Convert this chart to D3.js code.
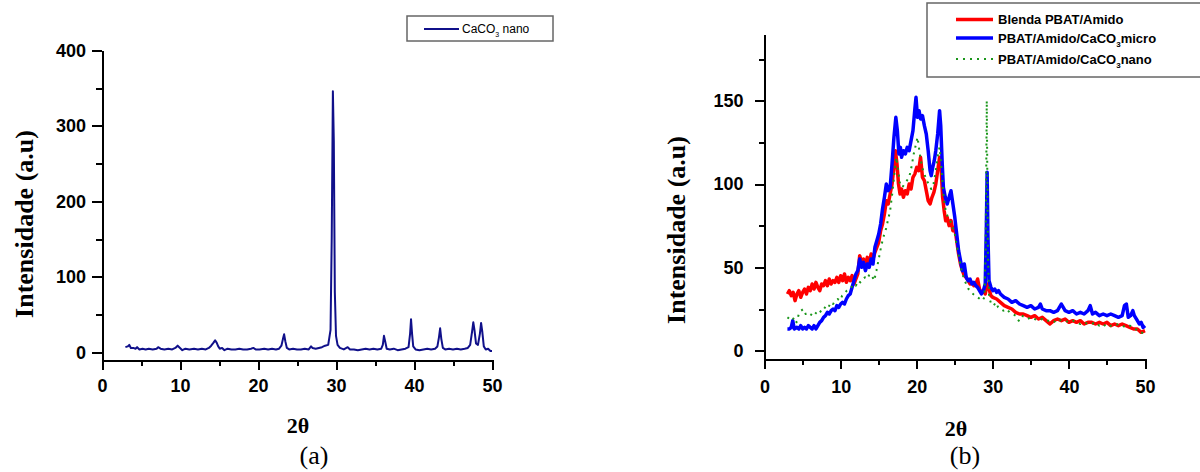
<!DOCTYPE html>
<meta charset="utf-8">
<style>
body { margin: 0; background: #fff; }
svg { display: block; }
.axis path, .axis line { fill: none; stroke: #000; stroke-width: 2; shape-rendering: crispEdges; }
.axis text { font-family: "Liberation Sans", Arial, sans-serif; font-weight: bold; font-size: 18px; fill: #000; }
.title { font-family: "Liberation Serif", "Times New Roman", serif; fill: #000; }
.legend text { font-family: "Liberation Sans", Arial, sans-serif; fill: #000; }
</style>
<body>
<script src="https://d3js.org/d3.v7.min.js"></script>
<script>
// ---- panel (a): CaCO3 nano, [2theta, intensity]
var caco3Nano = [[3.0,7],[3.3,8],[3.5,10],[3.7,6],[4.0,6],[4.3,5],[4.5,7],[4.8,4],[5.2,5],[5.6,4],[6.0,5],[6.5,4],[7.0,5],[7.2,7],[7.5,5],[8.0,4],[8.5,5],[9.0,4],[9.4,6],[9.7,9],[10.0,6],[10.3,3],[10.7,5],[11.2,4],[11.8,5],[12.3,4],[12.8,5],[13.3,4],[13.7,6],[14.0,9],[14.3,13],[14.5,16],[14.7,13],[14.9,8],[15.1,5],[15.4,6],[15.7,3],[16.1,5],[16.6,4],[17.1,4],[17.6,5],[18.1,4],[18.6,4],[19.1,5],[19.4,6],[19.7,4],[20.2,4],[20.8,5],[21.3,4],[21.8,5],[22.3,4],[22.7,5],[23.0,9],[23.2,18],[23.35,24],[23.5,15],[23.7,6],[24.0,4],[24.5,5],[25.0,4],[25.5,4],[26.0,5],[26.5,4],[26.8,8],[27.0,6],[27.4,5],[27.8,6],[28.2,7],[28.6,9],[29.0,10],[29.3,30],[29.45,150],[29.6,346],[29.72,280],[29.85,80],[30.0,22],[30.2,10],[30.5,6],[31.0,4],[31.5,7],[31.8,4],[32.3,4],[32.8,3],[33.3,4],[33.8,5],[34.3,4],[34.8,5],[35.3,4],[35.8,5],[36.0,10],[36.15,22],[36.3,15],[36.5,5],[36.9,4],[37.4,5],[37.9,3],[38.4,4],[38.9,5],[39.3,7],[39.5,25],[39.62,44],[39.75,25],[39.9,8],[40.2,4],[40.7,3],[41.2,4],[41.7,5],[42.2,4],[42.7,5],[43.0,8],[43.2,20],[43.35,32],[43.5,18],[43.7,6],[44.0,4],[44.5,5],[45.0,4],[45.5,5],[46.0,4],[46.5,5],[46.9,6],[47.2,10],[47.45,28],[47.6,40],[47.75,30],[47.95,12],[48.2,10],[48.45,25],[48.6,39],[48.75,28],[48.95,8],[49.2,4],[49.5,5],[49.8,2],[50.0,2]];

// ---- panel (b): blends
var blenda = [[3,34],[3.25,36],[3.5,33],[3.75,35],[4,30],[4.25,34],[4.5,36],[4.75,32],[5,35],[5.25,37],[5.5,34],[5.75,38],[6,36],[6.25,40],[6.5,37],[6.75,41],[7,38],[7.25,36],[7.5,40],[7.75,39],[8,42],[8.25,39],[8.5,43],[8.75,40],[9,42],[9.25,41],[9.5,44],[9.75,41],[10,45],[10.25,42],[10.5,46],[10.75,41],[11,44],[11.25,42],[11.5,45],[11.75,40],[12,43],[12.25,46],[12.5,57],[12.75,53],[13,55],[13.25,51],[13.5,56],[13.75,52],[14,58],[14.25,55],[14.5,59],[14.75,62],[15,65],[15.25,72],[15.5,76],[15.75,82],[16,90],[16.25,88],[16.5,94],[16.75,100],[17,110],[17.2,120],[17.4,112],[17.6,100],[17.8,94],[18,97],[18.25,92],[18.5,96],[18.75,94],[19,100],[19.25,97],[19.5,104],[19.75,106],[20,110],[20.25,108],[20.5,116],[20.75,104],[21,102],[21.25,96],[21.5,90],[21.75,88],[22,92],[22.25,95],[22.5,100],[22.75,108],[23,116],[23.2,110],[23.4,92],[23.6,84],[23.8,78],[24,80],[24.25,75],[24.5,78],[24.75,72],[25,74],[25.25,66],[25.5,58],[25.75,52],[26,48],[26.25,45],[26.5,44],[26.75,42],[27,40],[27.25,41],[27.5,39],[27.75,40],[28,43],[28.25,37],[28.5,35],[28.75,36],[29,34],[29.25,40],[29.5,37],[29.75,33],[30,32],[30.5,31],[31,29],[31.5,27],[32,26],[32.5,25],[33,23],[33.5,22],[34,22],[34.5,21],[35,20],[35.5,21],[36,19],[36.5,20],[37,18],[37.5,16],[38,18],[38.5,19],[39,18],[39.5,19],[40,17],[40.5,18],[41,17],[41.5,18],[42,16],[42.5,17],[43,17],[43.5,16],[44,17],[44.5,16],[45,17],[45.5,15],[46,16],[46.5,15],[47,16],[47.5,15],[48,14],[48.5,13],[49,13],[49.5,11],[50,12]];

var micro = [[3,13],[3.25,13],[3.5,14],[3.7,18],[3.9,13],[4.25,14],[4.5,13],[4.75,15],[5,13],[5.25,14],[5.5,13],[5.75,15],[6,14],[6.25,13],[6.5,15],[6.75,13],[7,15],[7.25,17],[7.5,18],[7.75,20],[8,21],[8.25,23],[8.5,22],[8.75,24],[9,25],[9.25,24],[9.5,27],[9.75,26],[10,28],[10.25,29],[10.5,28],[10.75,31],[11,33],[11.25,34],[11.5,38],[11.75,42],[12,46],[12.25,48],[12.5,55],[12.75,50],[13,53],[13.25,48],[13.5,52],[13.75,50],[14,55],[14.25,52],[14.5,62],[14.75,66],[15,70],[15.25,76],[15.5,85],[15.75,92],[16,100],[16.25,96],[16.5,98],[16.75,112],[17,128],[17.25,140],[17.45,132],[17.65,118],[17.85,122],[18,116],[18.25,120],[18.5,118],[18.75,122],[19,120],[19.25,126],[19.5,132],[19.75,145],[19.9,152],[20.1,140],[20.3,144],[20.5,139],[20.75,141],[21,135],[21.25,130],[21.5,120],[21.75,108],[21.9,105],[22.1,110],[22.3,114],[22.5,120],[22.75,130],[23,144],[23.15,135],[23.35,112],[23.5,98],[23.75,92],[24,88],[24.25,92],[24.5,96],[24.75,88],[25,80],[25.25,70],[25.5,60],[25.75,54],[26,48],[26.25,52],[26.5,44],[26.75,42],[27,43],[27.25,40],[27.5,41],[27.75,39],[28,38],[28.25,36],[28.5,34],[28.75,36],[29,40],[29.15,75],[29.25,107],[29.35,70],[29.5,42],[29.75,38],[30,36],[30.25,37],[30.5,35],[30.75,36],[31,34],[31.5,32],[32,31],[32.5,29],[33,30],[33.5,28],[34,27],[34.5,26],[35,27],[35.5,25],[36,26],[36.25,28],[36.5,25],[37,24],[37.5,24],[38,23],[38.5,24],[39,28],[39.5,24],[40,23],[40.5,24],[41,22],[41.5,23],[42,22],[42.5,24],[42.8,27],[43.1,22],[43.5,23],[44,21],[44.5,22],[45,21],[45.5,22],[46,21],[46.5,20],[47,21],[47.3,27],[47.55,28],[47.8,20],[48.1,21],[48.4,24],[48.6,21],[49,18],[49.25,16],[49.5,17],[49.75,14],[50,15]];

var nano = [[3,20],[3.3,19],[3.6,18],[3.9,20],[4.2,17],[4.5,22],[4.8,24],[5.1,25],[5.4,22],[5.7,23],[6,22],[6.3,21],[6.6,23],[6.9,22],[7.2,24],[7.5,23],[7.8,25],[8.1,27],[8.4,26],[8.7,29],[9,28],[9.3,30],[9.6,31],[9.9,30],[10.2,33],[10.5,34],[10.8,36],[11.1,37],[11.4,38],[11.7,40],[12,39],[12.3,42],[12.6,41],[12.9,43],[13.2,44],[13.5,43],[13.8,46],[14.1,45],[14.4,42],[14.7,48],[15,55],[15.3,62],[15.6,68],[15.9,72],[16.2,78],[16.5,84],[16.8,95],[17.1,108],[17.3,116],[17.5,110],[17.8,100],[18.1,98],[18.4,100],[18.7,102],[19,104],[19.3,110],[19.6,118],[19.9,124],[20.1,128],[20.4,118],[20.7,110],[21,106],[21.3,102],[21.6,100],[21.9,97],[22.2,100],[22.5,108],[22.8,118],[23,122],[23.2,112],[23.5,94],[23.8,84],[24.1,80],[24.4,78],[24.7,74],[25,70],[25.3,62],[25.6,55],[25.9,48],[26.2,43],[26.5,40],[26.8,37],[27.1,36],[27.4,34],[27.7,33],[28,32],[28.3,31],[28.6,30],[28.9,32],[29.05,60],[29.2,150],[29.35,60],[29.5,32],[29.8,28],[30.1,27],[30.4,29],[30.7,26],[31,25],[31.4,24],[31.8,25],[32.2,23],[32.6,22],[33,21],[33.4,18],[33.8,21],[34.2,20],[34.6,19],[35,20],[35.5,19],[36,18],[36.5,19],[37,18],[37.5,18],[38,17],[38.5,19],[39,18],[39.5,18],[40,17],[40.5,18],[41,17],[41.5,16],[42,17],[42.5,16],[43,16],[43.5,17],[44,15],[44.5,16],[45,14],[45.5,15],[46,15],[46.5,16],[47,15],[47.5,14],[48,15],[48.5,14],[49,12],[49.5,11],[50,10]];

var xTicks = [0, 10, 20, 30, 40, 50];
var xMinor = [5, 15, 25, 35, 45];
var yTicksA = [0, 100, 200, 300, 400];
var yMinorA = [50, 150, 250, 350];
var yTicksB = [0, 50, 100, 150];
var yMinorB = [25, 75, 125, 175];

var svg = d3.select("body").append("svg")
	.attr("width", 1200)
	.attr("height", 472);

function panel(o) {
	var x = d3.scaleLinear().domain([0, 50]).range(o.xr);
	var y = d3.scaleLinear().domain(o.yd).range(o.yr);
	var g = svg.append("g");

	// minor ticks first, then the major axes on top
	g.append("g").attr("class", "axis")
		.attr("transform", "translate(0," + o.yr[0] + ")")
		.call(d3.axisBottom(x).tickValues(xMinor).tickSize(6).tickSizeOuter(0).tickFormat(""));
	g.append("g").attr("class", "axis")
		.attr("transform", "translate(" + o.xr[0] + ",0)")
		.call(d3.axisLeft(y).tickValues(o.yMinor).tickSize(6).tickSizeOuter(0).tickFormat(""));

	g.append("g").attr("class", "axis")
		.attr("transform", "translate(0," + o.yr[0] + ")")
		.call(d3.axisBottom(x).tickValues(xTicks).tickSize(10).tickSizeOuter(0).tickPadding(o.xPad));
	g.append("g").attr("class", "axis")
		.attr("transform", "translate(" + o.xr[0] + ",0)")
		.call(d3.axisLeft(y).tickValues(o.yTicks).tickSize(10).tickSizeOuter(0).tickPadding(o.yPad));

	var line = d3.line().x(function (d) { return x(d[0]); }).y(function (d) { return y(d[1]); });
	o.series.forEach(function (s) {
		g.append("path")
			.datum(s.data)
			.attr("fill", "none")
			.attr("stroke", s.color)
			.attr("stroke-width", s.width)
			.attr("stroke-dasharray", s.dash || null)
			.attr("stroke-linejoin", "round")
			.attr("d", line);
	});

	// titles
	g.append("text").attr("class", "title")
		.attr("transform", "translate(" + o.yTitle[0] + "," + o.yTitle[1] + ") rotate(-90)")
		.attr("text-anchor", "middle")
		.attr("dy", "0.35em")
		.style("font-size", "26px").style("font-weight", "bold")
		.text("Intensidade (a.u)");
	g.append("text").attr("class", "title")
		.attr("x", o.xTitle[0]).attr("y", o.xTitle[1])
		.attr("text-anchor", "middle")
		.attr("dy", "0.35em")
		.style("font-size", "22px").style("font-weight", "bold")
		.text("2θ");
	g.append("text").attr("class", "title")
		.attr("x", o.tag[0]).attr("y", o.tag[1])
		.attr("text-anchor", "middle")
		.attr("dy", "0.35em")
		.style("font-size", "26px")
		.text(o.tagText);

	// legend
	var lg = g.append("g").attr("class", "legend");
	lg.append("rect")
		.attr("x", o.box[0]).attr("y", o.box[1]).attr("width", o.box[2]).attr("height", o.box[3])
		.attr("fill", "#fff").attr("stroke", "#666").attr("stroke-width", 1.5);
	o.series.forEach(function (s, i) {
		var ly = o.leg.y[i];
		lg.append("line")
			.attr("x1", o.leg.x1).attr("x2", o.leg.x2).attr("y1", ly).attr("y2", ly)
			.attr("stroke", s.color).attr("stroke-width", s.width)
			.attr("stroke-dasharray", s.dash || null);
		var t = lg.append("text")
			.attr("x", o.leg.tx).attr("y", ly)
			.attr("dy", "0.35em")
			.style("font-size", o.leg.size + "px")
			.style("font-weight", o.leg.weight);
		t.append("tspan").text(s.label[0]);
		if (s.label.length > 1) {
			t.append("tspan").attr("dy", 4).style("font-size", (o.leg.size - 5) + "px").text("3");
			t.append("tspan").attr("dy", -4).text(s.label[1]);
		}
	});
}

panel({
	xr: [102, 492], yd: [-10, 400], yr: [360, 50.5],
	yTicks: yTicksA, yMinor: yMinorA, xPad: 9, yPad: 6,
	yTitle: [24, 224], xTitle: [298, 425], tag: [314, 455], tagText: "(a)",
	box: [407, 16, 146, 25],
	leg: { x1: 424, x2: 459, tx: 462, y: [29], size: 12, weight: "normal" },
	series: [
		{ data: caco3Nano, color: "#10108a", width: 2, label: ["CaCO", " nano"] }
	]
});

panel({
	xr: [764.6, 1145], yd: [-5, 190], yr: [359, 34],
	yTicks: yTicksB, yMinor: yMinorB, xPad: 11, yPad: 11,
	yTitle: [676, 230], xTitle: [956, 428], tag: [965, 455], tagText: "(b)",
	box: [927, 3, 280, 74],
	leg: { x1: 956, x2: 993, tx: 998, y: [19.5, 38, 59], size: 13, weight: "bold" },
	series: [
		{ data: blenda, color: "#ff0000", width: 3.5, label: ["Blenda PBAT/Amido"] },
		{ data: micro, color: "#0000ff", width: 3.5, label: ["PBAT/Amido/CaCO", "micro"] },
		{ data: nano, color: "#1a961a", width: 2, dash: "2,5", label: ["PBAT/Amido/CaCO", "nano"] }
	]
});
</script>
</body>
